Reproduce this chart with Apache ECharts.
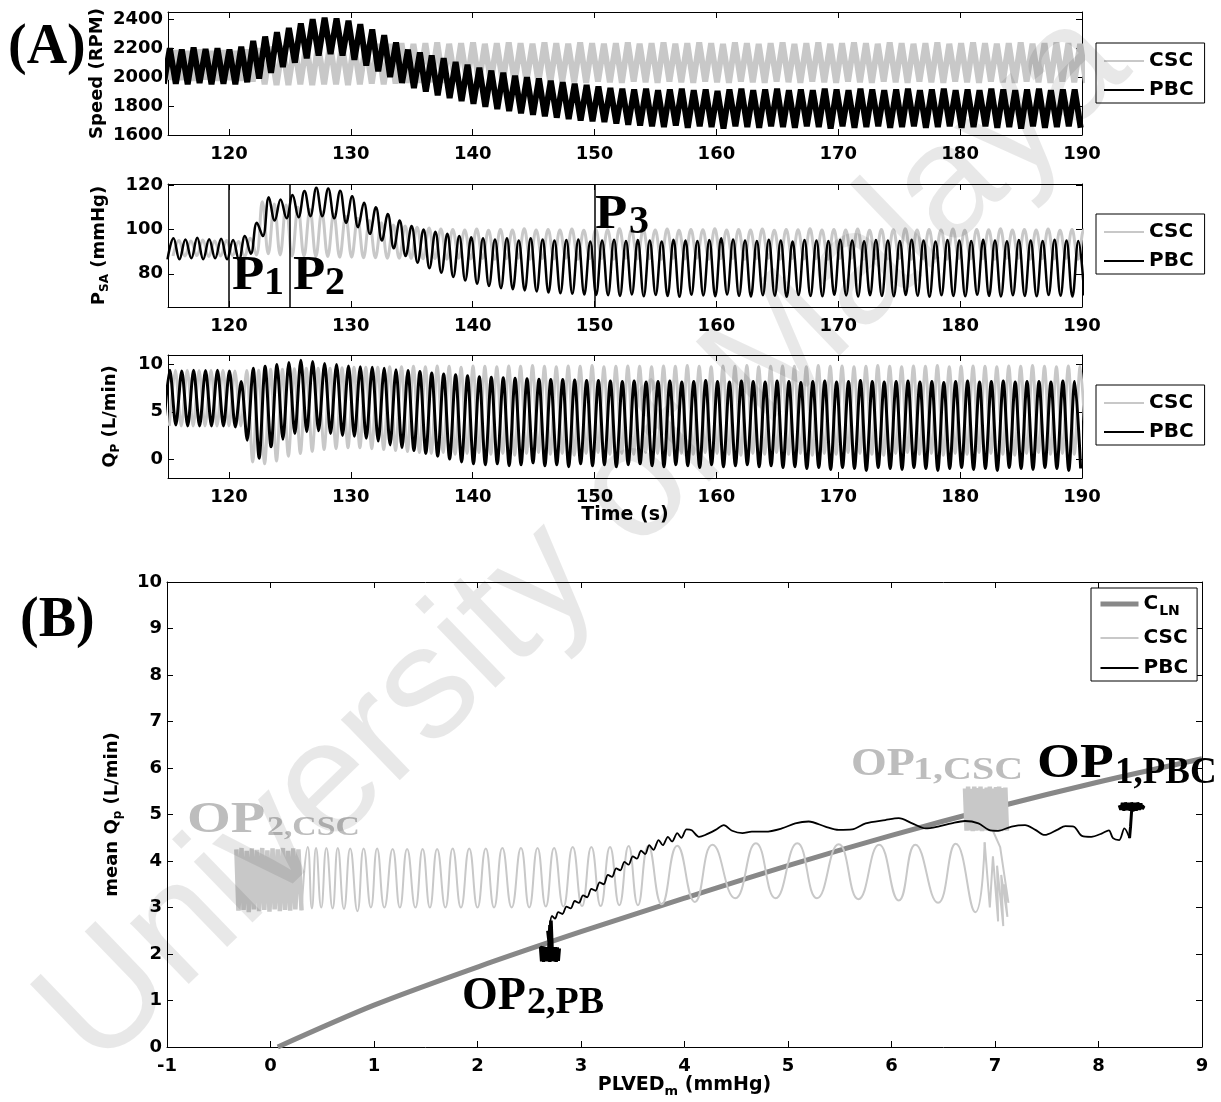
<!DOCTYPE html>
<html><head><meta charset="utf-8">
<script src="https://cdn.jsdelivr.net/npm/echarts@6/dist/echarts.min.js"></script>
<style>html,body{margin:0;padding:0;background:#fff}#c{width:1221px;height:1102px}</style>
</head><body><div id="c"></div>
<script>
// ---------- tick labels ----------
const timeTicks = [120,130,140,150,160,170,180,190];
const speedTicks = [1600,1800,2000,2200,2400];
const psaTicks = [80,100,120];
const qpTicks = [0,5,10];
const plvedTicks = [-1,0,1,2,3,4,5,6,7,8,9];
const meanQpTicks = [0,1,2,3,4,5,6,7,8,9,10];
const phaseTimes = [120,125,150];

// ---------- beat-by-beat values ----------
const beatTimes = [115.15,116.13,117.10,118.08,119.06,120.04,121.01,121.99,122.97,123.94,
 124.92,125.90,126.87,127.85,128.83,129.81,130.78,131.76,132.74,133.71,
 134.69,135.67,136.64,137.62,138.60,139.58,140.55,141.53,142.51,143.48,
 144.46,145.44,146.41,147.39,148.37,149.35,150.32,151.30,152.28,153.25,
 154.23,155.21,156.18,157.16,158.14,159.12,160.09,161.07,162.05,163.02,
 164.00,164.98,165.95,166.93,167.91,168.89,169.86,170.84,171.82,172.79,
 173.77,174.75,175.72,176.70,177.68,178.66,179.63,180.61,181.59,182.56,
 183.54,184.52,185.49,186.47,187.45,188.43,189.40];

const speedPbcHigh = [2200,2190,2205,2195,2200,2190,2210,2250,2280,2310,
 2340,2370,2400,2410,2405,2390,2365,2330,2290,2240,
 2190,2170,2150,2130,2105,2085,2065,2045,2030,2010,
 2000,1990,1975,1965,1955,1945,1935,1925,1920,1915,
 1920,1910,1915,1920,1910,1915,1905,1915,1920,1910,
 1915,1920,1910,1915,1910,1920,1915,1910,1920,1915,
 1910,1915,1920,1910,1915,1920,1910,1915,1910,1920,
 1915,1910,1915,1920,1910,1915,1915];
const speedPbcLow = [1955,1950,1960,1950,1955,1950,1965,1990,2030,2070,
 2100,2130,2150,2160,2150,2120,2080,2040,2000,1960,
 1925,1900,1875,1855,1835,1815,1795,1780,1765,1750,
 1740,1730,1720,1710,1700,1695,1690,1680,1670,1665,
 1660,1655,1665,1650,1660,1655,1645,1660,1655,1650,
 1660,1655,1650,1660,1655,1645,1660,1650,1655,1660,
 1650,1655,1660,1650,1655,1660,1650,1655,1660,1650,
 1655,1645,1660,1650,1655,1660,1650];
const speedCscHigh = [2185,2180,2190,2180,2185,2180,2190,2200,2210,2215,
 2220,2225,2225,2230,2225,2230,2225,2230,2230,2235,
 2230,2235,2240,2230,2235,2240,2230,2235,2240,2235,
 2230,2240,2235,2230,2240,2235,2230,2235,2240,2230,
 2235,2240,2230,2235,2240,2235,2230,2240,2235,2230,
 2235,2240,2230,2235,2240,2230,2235,2240,2235,2230,
 2240,2235,2230,2235,2240,2230,2235,2240,2235,2230,
 2235,2240,2230,2235,2240,2235,2230];
const speedCscLow = [1980,1975,1985,1975,1980,1975,1970,1950,1945,1945,
 1950,1945,1950,1950,1945,1950,1955,1950,1955,1960,
 1960,1965,1960,1970,1965,1960,1970,1965,1960,1970,
 1965,1960,1970,1965,1960,1970,1965,1960,1970,1965,
 1960,1970,1965,1960,1970,1965,1960,1970,1965,1960,
 1970,1965,1960,1970,1965,1960,1970,1965,1960,1970,
 1965,1960,1970,1965,1960,1970,1965,1960,1970,1965,
 1960,1970,1965,1960,1970,1965,1960];

const psaPbcHigh = [96.0,95.5,96.2,95.6,95.8,95.2,97.0,103.0,114.5,113.5,
 115.5,117.3,118.8,118.5,117.5,115.0,112.0,110.0,107.0,104.0,
 101.5,100.0,99.0,98.0,97.0,96.5,96.0,95.5,96.0,95.0,
 96.0,95.5,95.0,95.2,95.5,94.5,95.0,95.3,94.8,95.2,
 95.0,94.6,95.4,95.0,94.8,95.2,96.0,95.5,95.0,94.8,
 95.3,95.0,94.6,95.2,95.0,94.8,95.4,95.0,94.7,95.2,
 95.0,94.8,95.3,95.0,94.6,95.2,95.0,94.8,95.4,95.0,
 94.7,95.2,95.0,94.8,95.3,95.0,94.8];
const psaPbcLow = [86.5,87.0,86.6,87.0,86.5,86.2,89.0,97.0,104.0,105.0,
 105.5,106.0,106.0,105.0,103.0,101.0,98.0,95.0,91.5,88.0,
 85.0,82.5,80.5,78.5,77.0,75.5,74.5,73.5,73.0,72.5,
 72.0,71.5,71.2,71.0,70.6,70.4,70.3,70.0,70.6,69.8,
 70.4,70.0,69.6,70.5,70.2,69.8,70.6,70.0,69.7,70.3,
 70.1,69.6,70.4,70.0,69.8,70.5,70.2,69.7,70.3,70.0,
 69.8,70.4,70.1,69.6,70.3,70.0,69.8,70.5,70.0,69.7,
 70.3,70.0,69.8,70.4,70.1,69.7,70.2];
const psaCscHigh = [95.0,94.8,95.2,94.8,95.0,94.6,96.0,112.5,111.5,111.0,
 110.0,109.0,108.0,107.0,106.0,105.0,104.0,103.0,102.0,101.5,
 101.0,100.6,100.2,100.0,99.8,100.2,99.6,100.0,99.8,100.3,
 99.7,100.0,99.8,100.2,99.6,100.0,99.9,100.3,99.7,100.0,
 99.8,100.2,99.6,100.0,99.9,100.3,99.7,100.0,99.8,100.2,
 99.6,100.0,99.9,100.3,99.7,100.0,99.8,100.2,99.6,100.0,
 99.9,100.3,99.7,100.0,99.8,100.2,99.6,100.0,99.9,100.3,
 99.7,100.0,99.8,100.2,99.6,100.0,99.9];
const psaCscLow = [88.0,88.2,87.8,88.0,88.2,87.8,88.5,89.0,88.5,88.0,
 88.0,87.8,87.8,87.5,87.5,87.2,87.2,87.0,87.0,87.0,
 86.8,86.9,86.6,87.0,86.7,86.9,86.5,86.8,87.0,86.6,
 86.9,86.7,87.0,86.5,86.8,86.9,86.6,87.0,86.7,86.8,
 86.5,86.9,86.7,87.0,86.6,86.8,86.9,86.5,86.8,87.0,
 86.6,86.9,86.7,86.8,86.5,86.9,87.0,86.6,86.8,86.7,
 86.9,86.5,86.8,87.0,86.6,86.9,86.7,86.8,86.5,86.9,
 87.0,86.6,86.8,86.7,86.9,86.5,86.8];

const qpPbcHigh = [9.4,9.3,9.4,9.35,9.4,9.3,8.2,9.6,9.8,10.0,
 10.2,10.45,10.3,10.1,10.0,9.85,9.75,9.7,9.6,9.45,
 9.35,9.25,9.1,9.0,8.9,8.8,8.7,8.65,8.6,8.55,
 8.5,8.45,8.4,8.4,8.35,8.3,8.3,8.25,8.2,8.25,
 8.15,8.2,8.25,8.15,8.2,8.3,8.2,8.15,8.25,8.2,
 8.15,8.25,8.2,8.1,8.2,8.25,8.15,8.2,8.3,8.2,
 8.15,8.2,8.25,8.15,8.2,8.1,8.2,8.25,8.15,8.2,
 8.25,8.15,8.2,8.2,8.15,8.25,8.2];
const qpPbcLow = [3.6,3.5,3.5,3.5,3.5,3.4,2.0,0.1,1.3,2.1,
 2.7,2.9,3.0,2.7,2.5,2.4,2.2,1.9,1.5,1.2,
 0.9,0.6,0.3,0.0,-0.3,-0.5,-0.6,-0.5,-0.7,-0.6,
 -0.4,-0.7,-0.6,-0.8,-0.5,-0.7,-0.6,-0.8,-0.6,-0.5,
 -0.7,-0.8,-0.6,-0.7,-0.9,-0.6,-0.8,-0.7,-0.6,-0.8,
 -0.7,-0.9,-0.8,-1.0,-0.9,-1.1,-0.9,-1.0,-1.2,-0.9,
 -1.0,-1.1,-0.9,-1.0,-1.2,-1.0,-0.9,-1.1,-1.0,-1.2,
 -0.9,-1.0,-1.1,-0.9,-1.0,-1.2,-1.0];
const qpCscHigh = [9.4,9.4,9.35,9.4,9.4,9.3,9.35,9.4,9.5,9.5,
 9.55,9.6,9.6,9.6,9.65,9.7,9.7,9.7,9.75,9.75,
 9.8,9.75,9.85,9.8,9.7,9.85,9.8,9.75,9.85,9.8,
 9.9,9.8,9.75,9.85,9.8,9.9,9.75,9.8,9.85,9.8,
 9.75,9.85,9.8,9.9,9.8,9.75,9.85,9.8,9.9,9.75,
 9.8,9.85,9.8,9.75,9.9,9.8,9.85,9.75,9.8,9.9,
 9.8,9.75,9.85,9.8,9.9,9.75,9.8,9.85,9.8,9.75,
 9.85,9.8,9.9,9.8,9.75,9.85,9.8];
const qpCscLow = [3.5,3.5,3.5,3.5,3.5,3.5,-0.3,-0.5,-0.2,0.3,
 0.6,0.8,1.0,1.1,1.2,1.2,1.1,1.0,0.9,0.8,
 0.7,0.6,0.7,0.5,0.6,0.7,0.5,0.6,0.4,0.6,
 0.7,0.5,0.6,0.4,0.6,0.7,0.5,0.6,0.5,0.7,
 0.6,0.4,0.6,0.5,0.7,0.6,0.5,0.4,0.6,0.5,
 0.7,0.5,0.6,0.4,0.6,0.5,0.7,0.6,0.5,0.4,
 0.6,0.7,0.5,0.6,0.4,0.6,0.5,0.7,0.6,0.5,
 0.4,0.6,0.7,0.5,0.6,0.5,0.6];

// ---------- panel (B) paths ----------
const clnX = [0.07,1,2,3,4,5,6,7,8,9];
const clnY = [0,0.9,1.72,2.48,3.2,3.9,4.55,5.15,5.7,6.2];

const cscOp2X = [-0.33,-0.31,-0.28,-0.26,-0.23,-0.21,-0.18,-0.16,-0.13,-0.11,-0.08,-0.06,-0.03,-0.01,0.02,0.04,0.07,0.09,0.12,0.14,0.17,0.19,0.22,0.24,0.27,0.30];
const cscOp2Y = [4.25,2.93,4.28,2.95,4.22,2.90,4.27,2.96,4.24,2.92,4.28,2.95,4.23,2.91,4.27,2.96,4.25,2.92,4.28,2.95,4.22,2.93,4.27,2.96,4.25,2.94];
const cscWaveX = [0.30,0.36,0.40,0.44,0.49,0.54,0.60,0.65,0.71,0.77,0.84,0.90,0.97,1.03,1.10,1.18,1.25,1.32,1.40,1.47,
 1.54,1.61,1.69,1.76,1.84,1.92,2.00,2.08,2.16,2.24,2.33,2.42,2.50,2.58,2.66,2.74,2.83,2.92,3.01,3.10,
 3.19,3.28,3.37,3.46,3.55,3.65,3.78,3.93,4.10,4.27,4.49,4.69,4.88,5.09,5.28,5.49,5.68,5.88,6.07,6.23,
 6.45,6.62,6.81,6.90];
const cscWaveY = [2.94,4.30,2.98,4.28,3.00,4.28,2.98,4.28,2.97,4.27,2.92,4.27,3.00,4.27,3.00,4.26,3.00,4.26,3.00,4.26,
 3.00,4.26,3.00,4.27,3.00,4.27,3.00,4.27,3.00,4.28,3.00,4.28,3.00,4.28,3.02,4.28,3.02,4.30,3.03,4.30,
 3.03,4.30,3.05,4.32,3.05,4.33,3.07,4.33,3.12,4.35,3.20,4.38,3.20,4.38,3.20,4.36,3.18,4.35,3.15,4.35,
 3.10,4.37,2.90,4.40];
const cscTailX = [6.90,6.95,6.98,7.03,7.02,7.08,7.06,7.12,7.09,7.13,7.05,6.98,6.94];
const cscTailY = [4.40,3.00,4.10,2.70,3.90,2.60,3.70,2.80,3.50,3.10,4.30,4.65,4.80];
const cscOp1X = [6.71,6.725,6.74,6.755,6.77,6.785,6.80,6.815,6.83,6.845,6.86,6.875,6.89,6.905,6.92,6.935,6.95,6.965,6.98,6.995,7.01,7.025,7.04,7.055,7.07,7.085,7.10,7.115];
const cscOp1Y = [5.56,4.65,5.60,4.66,5.55,4.64,5.60,4.65,5.57,4.66,5.60,4.64,5.55,4.66,5.58,4.65,5.60,4.64,5.56,4.66,5.59,4.65,5.60,4.64,5.57,4.66,5.58,4.65];

const pbcOp1X = [8.20,8.215,8.23,8.245,8.26,8.275,8.29,8.305,8.32,8.335,8.35,8.365,8.38,8.395,8.41,8.425,8.44,8.32,8.31,8.30];
const pbcOp1Y = [5.20,5.10,5.25,5.08,5.26,5.09,5.25,5.08,5.26,5.10,5.25,5.08,5.26,5.10,5.24,5.12,5.18,5.08,4.75,4.49];
const pbcPathX = [8.30,8.25,8.20,8.14,8.10,8.03,7.93,7.84,7.76,7.68,7.60,7.48,7.39,7.29,7.16,7.03,6.94,6.84,6.71,6.58,
 6.45,6.33,6.20,6.07,5.94,5.75,5.62,5.49,5.36,5.20,5.07,4.94,4.78,4.65,4.56,4.46,4.38,4.30,4.20,4.14,
 4.07,4.02,3.97,3.93,3.88,3.84,3.79,3.75,3.70,3.66,3.62,3.58,3.54,3.50,3.46,3.42,3.38,3.34,3.30,3.26,
 3.22,3.18,3.14,3.10,3.06,3.02,2.98,2.94,2.90,2.86,2.82,2.78,2.75,2.72,2.70];
const pbcPathY = [4.49,4.70,4.45,4.49,4.66,4.59,4.52,4.54,4.74,4.75,4.67,4.56,4.67,4.77,4.74,4.65,4.67,4.81,4.86,4.81,
 4.74,4.70,4.81,4.92,4.88,4.81,4.68,4.67,4.74,4.85,4.81,4.70,4.63,4.63,4.60,4.65,4.77,4.67,4.56,4.52,
 4.66,4.68,4.50,4.60,4.42,4.52,4.34,4.45,4.24,4.34,4.15,4.22,4.05,4.10,3.92,3.98,3.80,3.84,3.66,3.70,
 3.50,3.54,3.36,3.40,3.22,3.26,3.10,3.14,2.98,3.02,2.86,2.90,2.76,2.82,2.62];
const pbcOp2X = [2.70,2.69,2.71,2.72,2.68,2.70,2.61,2.62,2.63,2.64,2.65,2.66,2.67,2.68,2.69,2.70,2.71,2.72,2.73,2.74,2.75,2.76,2.77,2.78,2.79];
const pbcOp2Y = [2.62,2.12,2.72,2.12,2.50,2.10,2.14,1.84,2.15,1.83,2.14,1.85,2.15,1.84,2.14,1.83,2.15,1.85,2.14,1.84,2.15,1.83,2.14,1.85,2.12];

// ---------- helpers ----------
function wave(times, hi, lo, lag) {
  const out = [];
  const n = Math.min(times.length, hi.length, lo.length);
  const half = (times[1] - times[0]) / 2;
  out.push([times[0] + lag - half, lo[0]]);
  for (let i = 0; i < n; i++) {
    const t = times[i] + lag;
    const next = (i + 1 < times.length ? times[i + 1] + lag : t + 2 * half);
    out.push([t, hi[i]]);
    out.push([(t + next) / 2, lo[i]]);
  }
  return out;
}
function zip(xs, ys) { return xs.map((x, i) => [x, ys[i]]); }

const FONT = 'DejaVu Sans';
const SERIF = 'Liberation Serif';
const GRAY = '#c8c8c8';
const lbl = { fontFamily: FONT, fontWeight: 'bold', fontSize: 18, color: '#000', formatter: v => String(v) };
const axLine = { show: true, onZero: false, lineStyle: { color: '#000', width: 1 } };

const grids = [
  { left: 168, top: 12, width: 914, height: 123 },
  { left: 168, top: 184, width: 914, height: 123 },
  { left: 168, top: 355, width: 914, height: 123 },
  { left: 167, top: 582, width: 1035, height: 465 }
].map(g => Object.assign({ outerBoundsMode: 'none', containLabel: false }, g));

const xAxis = [], yAxis = [];
function addX(gi, min, max, ticks, name, nameGap, nameRich) {
  xAxis.push({ type: 'value', gridIndex: gi, min, max, position: 'bottom', axisLine: axLine,
    axisTick: { show: true, inside: true, length: 6, customValues: ticks, lineStyle: { color: '#000' } },
    axisLabel: Object.assign({ customValues: ticks, margin: 10 }, lbl),
    splitLine: { show: false }, name: name || '', nameLocation: 'middle', nameGap: nameGap || 0,
    nameMoveOverlap: false,
    nameTextStyle: { fontFamily: FONT, fontWeight: 'bold', fontSize: 19, color: '#000', rich: nameRich || {} } });
  xAxis.push({ type: 'value', gridIndex: gi, min, max, position: 'top', axisLine: axLine,
    axisTick: { show: true, inside: true, length: 6, customValues: ticks, lineStyle: { color: '#000' } },
    axisLabel: { show: false }, splitLine: { show: false } });
}
function addY(gi, min, max, ticks, name, nameGap, nameRich) {
  yAxis.push({ type: 'value', gridIndex: gi, min, max, position: 'left', axisLine: axLine,
    axisTick: { show: true, inside: true, length: 6, customValues: ticks, lineStyle: { color: '#000' } },
    axisLabel: Object.assign({ customValues: ticks, margin: 5 }, lbl),
    splitLine: { show: false }, name, nameLocation: 'middle', nameGap, nameMoveOverlap: false,
    nameTextStyle: { fontFamily: FONT, fontWeight: 'bold', fontSize: 18, color: '#000', rich: nameRich || {} } });
  yAxis.push({ type: 'value', gridIndex: gi, min, max, position: 'right', axisLine: axLine,
    axisTick: { show: true, inside: true, length: 6, customValues: ticks, lineStyle: { color: '#000' } },
    axisLabel: { show: false }, splitLine: { show: false } });
}
const subRich = {
  a: { fontFamily: FONT, fontWeight: 'bold', fontSize: 18, color: '#000' },
  b: { fontFamily: FONT, fontWeight: 'bold', fontSize: 12, color: '#000', padding: [12, 0, 0, 0] }
};
addX(0, 115, 190, timeTicks);
addX(1, 115, 190, timeTicks);
addX(2, 115, 190, timeTicks, 'Time (s)', 28);
addX(3, -1, 9, plvedTicks, '{a|PLVED}{b|m}{a| (mmHg)}', 26, {
  a: { fontFamily: FONT, fontWeight: 'bold', fontSize: 19, color: '#000' },
  b: { fontFamily: FONT, fontWeight: 'bold', fontSize: 13, color: '#000', padding: [12, 0, 0, 0] } });
addY(0, 1600, 2450, speedTicks, 'Speed (RPM)', 62);
addY(1, 65, 120.5, psaTicks, '{a|P}{b|SA}{a| (mmHg)}', 57, subRich);
addY(2, -2, 11, qpTicks, '{a|Q}{b|P}{a| (L/min)}', 46, subRich);
addY(3, 0, 10, meanQpTicks, '{a|mean Q}{b|p}{a| (L/min)}', 43, subRich);

function ts(gi, name, data, color, width, smooth, extra) {
  return Object.assign({ type: 'line', name, xAxisIndex: 2 * gi, yAxisIndex: 2 * gi, data,
    showSymbol: false, symbol: 'none', smooth: smooth || false, clip: true, silent: true,
    lineStyle: { color, width }, itemStyle: { color }, emphasis: { disabled: true } }, extra || {});
}

const series = [
  ts(0, 'CSC', wave(beatTimes, speedCscHigh, speedCscLow, 0.45), GRAY, 6),
  ts(0, 'PBC', wave(beatTimes, speedPbcHigh, speedPbcLow, 0.0), '#000', 6),
  ts(1, 'CSC', wave(beatTimes, psaCscHigh, psaCscLow, 0.75), GRAY, 3, 0.4),
  ts(1, 'PBC', wave(beatTimes, psaPbcHigh, psaPbcLow, 0.3), '#000', 2.5, 0.4, {
    markLine: { silent: true, symbol: ['none', 'none'], label: { show: false },
      lineStyle: { color: '#000', width: 1.5, type: 'solid' },
      data: phaseTimes.map(t => ({ xAxis: t })) } }),
  ts(2, 'CSC', wave(beatTimes, qpCscHigh, qpCscLow, 0.45), GRAY, 3, 0.3),
  ts(2, 'PBC', wave(beatTimes, qpPbcHigh, qpPbcLow, 0.0), '#000', 3, 0.3),
  ts(3, 'C_LN', zip(clnX, clnY), '#888888', 5, 0.3),
  ts(3, 'CSC', zip(cscWaveX, cscWaveY), GRAY, 2, 0.5),
  ts(3, 'CSC', zip(cscTailX, cscTailY), GRAY, 2),
  ts(3, 'CSC', zip(cscOp2X, cscOp2Y), GRAY, 4.5),
  ts(3, 'CSC', zip(cscOp1X, cscOp1Y), GRAY, 4.5),
  ts(3, 'PBC', zip(pbcOp1X, pbcOp1Y), '#000', 3),
  ts(3, 'PBC', zip(pbcPathX, pbcPathY), '#000', 1.8, 0.3),
  ts(3, 'PBC', zip(pbcOp2X, pbcOp2Y), '#000', 3.5)
];

const legText = { fontFamily: FONT, fontWeight: 'bold', fontSize: 20, color: '#000', lineHeight: 20 };
function legendA(top) {
  return { orient: 'vertical', left: 1096, top, data: ['CSC', 'PBC'], itemWidth: 40, itemHeight: 2,
    itemGap: 9, itemTextGap: 4, padding: [8, 11, 3, 7], borderColor: '#000', borderWidth: 1,
    backgroundColor: '#fff', textStyle: legText, lineStyle: { width: 2 }, itemStyle: { opacity: 0 },
    selectedMode: false };
}
const legend = [legendA(43), legendA(214), legendA(385), {
  orient: 'vertical', left: 1091, top: 588, itemWidth: 38, itemHeight: 2, itemGap: 10, itemTextGap: 4,
  padding: [6, 9, 3, 7], borderColor: '#000', borderWidth: 1, backgroundColor: '#fff',
  data: [{ name: 'C_LN', lineStyle: { width: 5 } }, { name: 'CSC', lineStyle: { width: 2 } }, { name: 'PBC', lineStyle: { width: 2 } }],
  formatter: n => n === 'C_LN' ? '{a|C}{b|LN}' : n,
  textStyle: Object.assign({}, legText, { rich: {
    a: { fontFamily: FONT, fontWeight: 'bold', fontSize: 20, color: '#000' },
    b: { fontFamily: FONT, fontWeight: 'bold', fontSize: 14, color: '#000', padding: [14, 0, 0, 1] } } }),
  itemStyle: { opacity: 0 }, selectedMode: false }];

// ---------- annotation texts ----------
function txt(text, x, y, size, color, sx) {
  return { type: 'text', x, y, scaleX: sx || 1, z: 50, silent: true,
    style: { text, fontFamily: SERIF, fontWeight: 'bold', fontSize: size, fill: color,
      align: 'left', verticalAlign: 'middle', textAlign: 'left', textVerticalAlign: 'middle' } };
}
const LG = '#bdbdbd';
const graphic = [
  txt('(A)', 8, 49, 56, '#000'),
  txt('(B)', 20, 622, 56, '#000'),
  txt('P', 232, 277, 48, '#000', 1.1), txt('1', 264, 284, 40, '#000'),
  txt('P', 293, 277, 48, '#000', 1.1), txt('2', 325, 284, 40, '#000'),
  txt('P', 595, 216, 48, '#000', 1.1), txt('3', 629, 223, 40, '#000'),
  txt('OP', 187, 820, 45, LG, 1.25), txt('2,CSC', 267, 828, 27, LG, 1.25),
  txt('OP', 851, 765, 40, LG, 1.15), txt('1,CSC', 913, 771, 32, LG, 1.25),
  txt('OP', 1037, 765, 48, '#000', 1.15), txt('1,PBC', 1115, 773, 37, '#000'),
  txt('OP', 462, 997, 46, '#000'), txt('2,PB', 527, 1003, 38, '#000'),
  { type: 'text', x: 585, y: 540, rotation: 44 * Math.PI / 180, z: 60, silent: true,
    style: { text: 'University of Malaya', fontFamily: 'Liberation Sans', fontSize: 160,
      fill: 'rgba(0,0,0,0.09)', align: 'center', verticalAlign: 'middle', textAlign: 'center', textVerticalAlign: 'middle' } }
];

const chart = echarts.init(document.getElementById('c'), null, { renderer: 'canvas' });
chart.setOption({ animation: false, backgroundColor: '#fff', grid: grids, xAxis, yAxis, series, legend, graphic });
</script></body></html>
